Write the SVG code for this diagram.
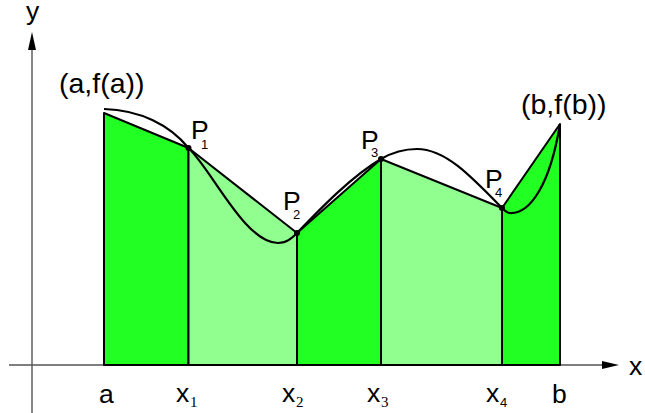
<svg xmlns="http://www.w3.org/2000/svg" width="645" height="413" viewBox="0 0 645 413">
  <style>
    .dark { fill: #22ff22; stroke: #000; stroke-width: 2; stroke-linejoin: round; }
    .light { fill: #90ff90; stroke: #000; stroke-width: 2; stroke-linejoin: round; }
    .axis { stroke: #555; stroke-width: 1.4; fill: none; }
    .curve { stroke: #000; stroke-width: 2.2; fill: none; }
    .lbl { font-family: "Liberation Sans", Arial, sans-serif; font-size: 26.5px; fill: #000; }
    .big { font-family: "Liberation Sans", Arial, sans-serif; font-size: 28.5px; fill: #000; }
    .sub { font-family: "Liberation Sans", Arial, sans-serif; font-size: 13px; fill: #000; }
    .subs { font-family: "Liberation Serif", "Times New Roman", serif; font-size: 15px; fill: #000; }
    .dot { fill: #000; }
  </style>
  <rect width="645" height="413" fill="#fff"/>
  <g id="axes">
    <line class="axis" x1="32" y1="48" x2="32" y2="413"/>
    <polygon points="32,32 28,50 36,50" fill="#000"/>
    <line class="axis" x1="9" y1="365" x2="604" y2="365"/>
    <polygon points="619,365 602,361 602,369" fill="#000"/>
    <text class="lbl" x="26" y="20">y</text>
    <text class="lbl" x="629" y="375">x</text>
  </g>
  <g id="trapezoids">
    <polygon class="dark" points="104,113 188.5,148 188.5,365 104,365"/>
    <polygon class="light" points="188.5,148 297,233 297,365 188.5,365"/>
    <polygon class="dark" points="297,233 381,159 381,365 297,365"/>
    <polygon class="light" points="381,159 502,208 502,365 381,365"/>
    <polygon class="dark" points="502,208 560,124 560,365 502,365"/>
  </g>
  <g id="curve">
    <path class="curve" d="M104,109 C140,110 170,125 188.5,148 C212,170 245,243 278,243 C287,243 292,238 297,233 C322,207 352,176 381,159 C393,152 405,149 417,149 C445,149 470,175 502,208 C505,211 507,213 510,213 C530,214 550,185 560,124"/>
  </g>
  <g id="points">
    <circle class="dot" cx="188.5" cy="148" r="3"/>
    <circle class="dot" cx="297" cy="233" r="3"/>
    <circle class="dot" cx="381" cy="159" r="3"/>
    <circle class="dot" cx="502" cy="208" r="3"/>
  </g>
  <g id="labels">
    <text class="big" x="59" y="93">(a,f(a))</text>
    <text class="big" x="521" y="114">(b,f(b))</text>
    <text class="lbl" x="191" y="139">P</text><text class="sub" x="201" y="149">1</text>
    <text class="lbl" x="283" y="210">P</text><text class="sub" x="293" y="219">2</text>
    <text class="lbl" x="361" y="149">P</text><text class="sub" x="371" y="157">3</text>
    <text class="lbl" x="485" y="188">P</text><text class="sub" x="495" y="197">4</text>
    <text class="lbl" x="99" y="403">a</text>
    <text class="lbl" x="176" y="402">x</text><text class="subs" x="190" y="407">1</text>
    <text class="lbl" x="282" y="402">x</text><text class="subs" x="296" y="407">2</text>
    <text class="lbl" x="367" y="402">x</text><text class="subs" x="381" y="407">3</text>
    <text class="lbl" x="486" y="402">x</text><text class="sub" x="500" y="407">4</text>
    <text class="lbl" x="552" y="403">b</text>
  </g>
</svg>
